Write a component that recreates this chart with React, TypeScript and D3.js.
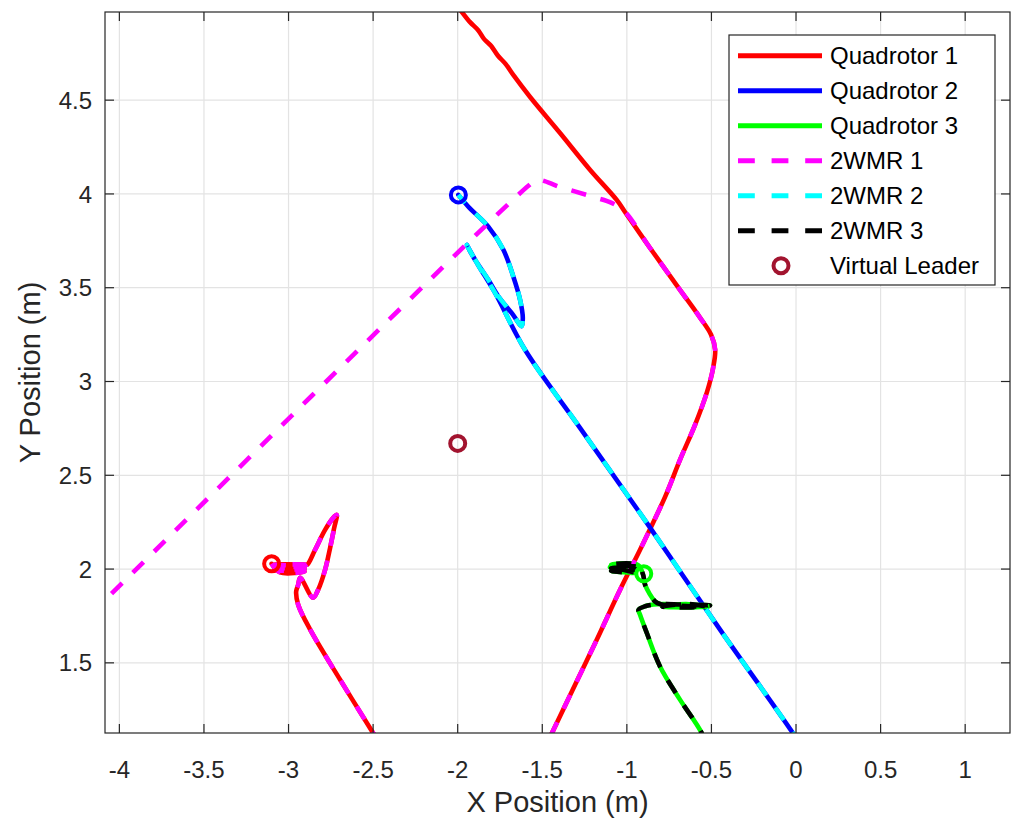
import React from "react";
import * as d3 from "d3";

type P = [number, number];

// ---- Data (metres) ----
const xTicks = [-4, -3.5, -3, -2.5, -2, -1.5, -1, -0.5, 0, 0.5, 1];
const yTicks = [1.5, 2, 2.5, 3, 3.5, 4, 4.5];

// Quadrotor 1: approach from above (quadrotor only)
const quad1Approach: P[] = [
  [-2.015, 5.018], [-1.976, 4.971], [-1.927, 4.916], [-1.879, 4.873], [-1.846, 4.828],
  [-1.803, 4.79], [-1.763, 4.738], [-1.716, 4.692], [-1.667, 4.629], [-1.572, 4.517],
  [-1.395, 4.325], [-1.217, 4.128], [-1.06, 3.968], [-1.011, 3.904],
];
// 2WMR 1: approach from the left (ground robot only)
const wmr1Approach: P[] = [
  [-4.3, 1.646], [-4.084, 1.836], [-1.58, 4.045], [-1.531, 4.075], [-1.395, 4.037],
  [-1.217, 3.989], [-1.087, 3.951], [-1.011, 3.904],
];
// Shared path of agent pair 1 after meeting
const pair1Shared: P[] = [
  [-1.011, 3.904], [-0.863, 3.712], [-0.686, 3.489], [-0.567, 3.34], [-0.502, 3.249],
  [-0.478, 3.169], [-0.49, 3.073], [-0.526, 2.945], [-0.597, 2.769], [-0.686, 2.582],
  [-0.774, 2.385], [-0.922, 2.103], [-1.04, 1.89], [-1.178, 1.623], [-1.306, 1.383],
  [-1.442, 1.127], [-1.513, 0.994],
];
// Pair 1 re-entering from below and settling
const pair1Final: P[] = [
  [-2.459, 1.063], [-2.501, 1.127], [-2.695, 1.41], [-2.872, 1.677], [-2.943, 1.81],
  [-2.955, 1.88], [-2.943, 1.916], [-2.931, 1.954], [-2.855, 1.847], [-2.825, 1.89],
  [-2.784, 1.996], [-2.754, 2.114], [-2.73, 2.22], [-2.715, 2.289], [-2.736, 2.273],
  [-2.784, 2.209], [-2.843, 2.103], [-2.89, 2.023], [-2.905, 2.024], [-3.085, 2.024],
  [-2.905, 2.014], [-3.085, 2.008], [-2.905, 2.0], [-3.085, 1.994], [-2.905, 1.986],
  [-3.05, 1.982], [-3.1, 2.028],
];

// Pair 2 (Quadrotor 2 / 2WMR 2 share the path)
const pair2Path: P[] = [
  [0.024, 1.063], [-0.0195, 1.127], [-0.449, 1.677], [-0.875, 2.237], [-1.277, 2.753],
  [-1.602, 3.169], [-1.779, 3.472], [-1.879, 3.621], [-1.946, 3.728], [-1.905, 3.66],
  [-1.819, 3.542], [-1.759, 3.453], [-1.68, 3.364], [-1.631, 3.302], [-1.622, 3.295],
  [-1.615, 3.339], [-1.631, 3.435], [-1.671, 3.559], [-1.73, 3.702], [-1.819, 3.826],
  [-1.937, 3.932], [-1.996, 3.995],
];

// Pair 3 (Quadrotor 3 / 2WMR 3 share the path)
const pair3Path: P[] = [
  [-0.538, 1.063], [-0.5585, 1.127], [-0.686, 1.304], [-0.804, 1.481], [-0.882, 1.659],
  [-0.922, 1.756], [-0.931, 1.783], [-0.892, 1.802], [-0.822, 1.812], [-0.65, 1.81],
  [-0.508, 1.806], [-0.62, 1.796], [-0.79, 1.8], [-0.65, 1.814], [-0.52, 1.798],
  [-0.7, 1.806], [-0.8, 1.812], [-0.833, 1.827], [-0.892, 1.916], [-0.904, 1.97],
  [-0.935, 2.022], [-1.093, 2.025], [-0.94, 2.012], [-1.093, 2.006], [-0.94, 1.998],
  [-1.093, 1.99], [-0.95, 1.98], [-1.1, 2.01],
];

const finalQuad1: P = [-3.1, 2.028];
const finalQuad2: P = [-1.996, 3.995];
const finalQuad3: P = [-0.9, 1.975];
const virtualLeader: P = [-2.0, 2.67];

const legendLabels = ["Quadrotor 1", "Quadrotor 2", "Quadrotor 3", "2WMR 1", "2WMR 2", "2WMR 3", "Virtual Leader"];
const legendColors = ["#ff0000", "#0000ff", "#00ff00", "#ff00ff", "#00ffff", "#000000", "#a2142f"];
const legendDashed = [false, false, false, true, true, true, false];

// ---- Layout ----
const W = 1012;
const H = 825;
const L = 105, R = 1010, T = 12, B = 733;
const FONT = "'Liberation Sans', Arial, Helvetica, sans-serif";
const AX = "#262626";
const GRID = "#e3e3e3";
const DASH = "15,15";
const LW = 4.6;

export default function App() {
  const x = d3.scaleLinear().domain([-4.085, 1.265]).range([L, R]);
  const y = d3.scaleLinear().domain([1.126, 4.97]).range([B, T]);
  const line = d3.line<P>().x((d) => x(d[0])).y((d) => y(d[1])).curve(d3.curveCatmullRom.alpha(0.5));

  const solid = (pts: P[], color: string, key: string) => (
    <path key={key} d={line(pts) || ""} fill="none" stroke={color} strokeWidth={LW}
      strokeLinejoin="round" strokeLinecap="round" />
  );
  const dashed = (pts: P[], color: string, key: string) => (
    <path key={key} d={line(pts) || ""} fill="none" stroke={color} strokeWidth={LW}
      strokeDasharray={DASH} strokeLinejoin="round" strokeLinecap="butt" />
  );
  const marker = (p: P, color: string, key: string) => (
    <circle key={key} cx={x(p[0])} cy={y(p[1])} r={7.5} fill="none" stroke={color} strokeWidth={4} />
  );

  const quad1Main = quad1Approach.concat(pair1Shared.slice(1));
  const wmr1Main = wmr1Approach.concat(pair1Shared.slice(1));

  const tickLen = 9;
  const legX = 729, legY = 35, legW = 266, legH = 250;

  return (
    <svg width={W} height={H} style={{ position: "absolute", left: 0, top: 0, background: "#fff" }}
      fontFamily={FONT}>
      <defs>
        <clipPath id="plotClip">
          <rect x={L} y={T} width={R - L} height={B - T} />
        </clipPath>
      </defs>
      <rect x={0} y={0} width={W} height={H} fill="#fff" />
      {/* grid */}
      {xTicks.map((t) => (
        <line key={"gx" + t} x1={x(t)} x2={x(t)} y1={T} y2={B} stroke={GRID} strokeWidth={1.2} />
      ))}
      {yTicks.map((t) => (
        <line key={"gy" + t} x1={L} x2={R} y1={y(t)} y2={y(t)} stroke={GRID} strokeWidth={1.2} />
      ))}

      {/* data */}
      <g clipPath="url(#plotClip)">
        {solid(quad1Main, "#ff0000", "q1a")}
        {solid(pair1Final, "#ff0000", "q1b")}
        {solid(pair2Path, "#0000ff", "q2")}
        {solid(pair3Path, "#00ff00", "q3")}
        {dashed(wmr1Main, "#ff00ff", "w1a")}
        {dashed(pair1Final, "#ff00ff", "w1b")}
        {dashed(pair2Path, "#00ffff", "w2")}
        {dashed(pair3Path, "#000000", "w3")}
        {marker(finalQuad1, "#ff0000", "m1")}
        {marker(finalQuad2, "#0000ff", "m2")}
        {marker(finalQuad3, "#00ff00", "m3")}
        {marker(virtualLeader, "#a2142f", "vl")}
      </g>

      {/* axes box */}
      <rect x={L} y={T} width={R - L} height={B - T} fill="none" stroke={AX} strokeWidth={1.2} />
      {xTicks.map((t) => (
        <g key={"tx" + t}>
          <line x1={x(t)} x2={x(t)} y1={B} y2={B - tickLen} stroke={AX} strokeWidth={1.2} />
          <line x1={x(t)} x2={x(t)} y1={T} y2={T + tickLen} stroke={AX} strokeWidth={1.2} />
          <text x={x(t)} y={778} textAnchor="middle" fontSize={24} fill={AX}>{String(t)}</text>
        </g>
      ))}
      {yTicks.map((t) => (
        <g key={"ty" + t}>
          <line x1={L} x2={L + tickLen} y1={y(t)} y2={y(t)} stroke={AX} strokeWidth={1.2} />
          <line x1={R} x2={R - tickLen} y1={y(t)} y2={y(t)} stroke={AX} strokeWidth={1.2} />
          <text x={92} y={y(t)} dy="0.36em" textAnchor="end" fontSize={24} fill={AX}>{String(t)}</text>
        </g>
      ))}
      <text x={(L + R) / 2} y={812} textAnchor="middle" fontSize={29} fill={AX}>X Position (m)</text>
      <text transform={`translate(40, ${(T + B) / 2}) rotate(-90)`} textAnchor="middle" fontSize={29} fill={AX}>
        Y Position (m)
      </text>

      {/* legend */}
      <rect x={legX} y={legY} width={legW} height={legH} fill="#fff" stroke={AX} strokeWidth={1.2} />
      {legendLabels.map((lab, i) => {
        const cy = 55.7 + i * 35;
        const color = legendColors[i];
        return (
          <g key={"lg" + i}>
            {i < 6 ? (
              <line x1={738} x2={822} y1={cy} y2={cy} stroke={color} strokeWidth={LW + 0.3}
                strokeDasharray={legendDashed[i] ? "16.8,16.8" : undefined} />
            ) : (
              <circle cx={781} cy={cy} r={7.5} fill="none" stroke={color} strokeWidth={4} />
            )}
            <text x={830} y={cy} dy="0.36em" fontSize={24} fill="#000">{lab}</text>
          </g>
        );
      })}
    </svg>
  );
}
